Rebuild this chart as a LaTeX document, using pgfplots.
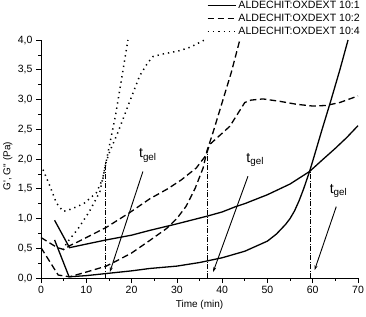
\documentclass[border=0pt]{standalone}
\usepackage{fontspec}
\setmainfont{Liberation Sans}
\usepackage{pgfplots}
\pgfplotsset{compat=1.18}
\usetikzlibrary{arrows.meta}
\begin{document}
\begin{tikzpicture}[x=1pt,y=1pt]
\path[use as bounding box] (0,0) rectangle (366,-316);
\begin{axis}[
  at={(41pt,-278pt)}, anchor=south west,
  scale only axis, width=317pt, height=238pt,
  xmin=0, xmax=70, ymin=0, ymax=4,
  axis x line*=bottom, axis y line*=left,
  axis line style={-, line width=0.8pt},
  xtick={0,10,20,30,40,50,60,70}, minor x tick num=1,
  ytick={0,0.5,1,1.5,2,2.5,3,3.5,4}, minor y tick num=1,
  tick align=outside,
  major tick length=5pt, minor tick length=2.8pt,
  tick style={black, line width=0.7pt},
  /pgf/number format/assume math mode=true,
  y tick label style={/pgf/number format/fixed, /pgf/number format/fixed zerofill, /pgf/number format/precision=1, /pgf/number format/use comma, xshift=0pt},
  tick label style={font=\fontsize{10.5}{12}\selectfont},
  xlabel={Time (min)},
  ylabel={G\textquotesingle, G\textquotedbl\ (Pa)},
  label style={font=\fontsize{12}{14}\selectfont},
  every axis x label/.style={at={(axis description cs:0.5,-0.113)}, anchor=center},
  every axis y label/.style={at={(axis description cs:-0.105,0.47)}, rotate=90, anchor=center},
  legend style={at={(1,1)}, anchor=south east, xshift=5pt, yshift=1pt, draw=none, fill=none,
    font=\fontsize{10.6}{12}\selectfont, row sep=0pt, inner sep=1pt},
  legend cell align=left,
  legend image code/.code={\draw[#1] (0pt,0pt) -- (28pt,0pt);},
  clip=false,
]
\addlegendimage{black, line width=1.3pt}
\addlegendentry{ALDECHIT:OXDEXT 10:1}
\addlegendimage{black, line width=1.3pt, dash pattern=on 6.5pt off 3.5pt}
\addlegendentry{ALDECHIT:OXDEXT 10:2}
\addlegendimage{black, line width=1.5pt, dash pattern=on 1.3pt off 4pt}
\addlegendentry{ALDECHIT:OXDEXT 10:4}

% 10:1 solid
\addplot[black, line width=1.3pt, forget plot] coordinates {
(3.0,0.97)(6.3,0.51)(10,0.57)(14.4,0.64)(20,0.72)(24,0.8)(30,0.91)(36.7,1.04)(40,1.11)(43,1.2)(45,1.25)(50,1.4)(55,1.58)(59.3,1.79)(62.2,1.99)(65,2.18)(67.5,2.36)(70,2.56)};
\addplot[black, line width=1.3pt, forget plot] coordinates {
(3.0,0.64)(6.2,0.02)(10,0.04)(15,0.08)(20,0.12)(24,0.16)(30,0.2)(35,0.26)(40,0.34)(45,0.45)(50,0.62)(52,0.74)(54,0.9)(55,1.0)(56,1.13)(57,1.3)(58,1.5)(59.3,1.79)(60.1,1.99)(62,2.48)(64,2.98)(66,3.5)(67.8,4.0)};

% 10:2 dashed
\addplot[black, line width=1.3pt, dash pattern=on 6.5pt off 3.5pt, forget plot] coordinates {
(0,0.68)(3.6,0.51)(5,0.48)(6.5,0.55)(8.2,0.61)(10,0.68)(14.4,0.85)(19.6,1.1)(24,1.33)(28,1.5)(31,1.65)(34.3,1.85)(36.5,2.07)(37.2,2.24)(41.7,2.55)(45,2.95)(46.4,2.99)(49,3.01)(52.7,2.97)(56.4,2.92)(60,2.89)(63,2.9)(66,2.95)(70,3.06)};
\addplot[black, line width=1.3pt, dash pattern=on 6.5pt off 3.5pt, forget plot] coordinates {
(0,0.51)(3.8,0.05)(6.3,0.02)(10,0.1)(14.4,0.2)(17,0.3)(20,0.42)(24,0.63)(27.7,0.83)(30,1.0)(32,1.2)(34,1.5)(35.8,1.85)(36.7,2.15)(38,2.45)(40,2.95)(42,3.45)(43.9,4.0)};

% 10:4 dotted
\addplot[black, line width=1.5pt, dash pattern=on 1.3pt off 4pt, forget plot] coordinates {
(0.45,1.82)(2,1.54)(3.4,1.26)(4.9,1.12)(6,1.14)(8,1.2)(9.6,1.26)(12.2,1.43)(13.7,1.68)(14.3,1.93)(15.2,2.13)(17,2.45)(19.2,2.89)(21.8,3.4)(23.6,3.62)(24.7,3.72)(26.6,3.76)(30.6,3.82)(33,3.88)(36.1,4.0)};
\addplot[black, line width=1.5pt, dash pattern=on 1.3pt off 4pt, forget plot] coordinates {
(4.9,0.47)(5.6,0.58)(8.2,0.83)(10.7,1.12)(13,1.45)(14.3,1.92)(16.5,2.75)(19.2,4.0)};

% gel-point verticals
\addplot[black, line width=0.6pt, dash pattern=on 5pt off 1.5pt on 1pt off 1.5pt, forget plot] coordinates {(14.3,0)(14.3,1.93)};
\addplot[black, line width=0.6pt, dash pattern=on 5pt off 1.5pt on 1pt off 1.5pt, forget plot] coordinates {(36.7,0)(36.7,2.18)};
\addplot[black, line width=0.6pt, dash pattern=on 5pt off 1.5pt on 1pt off 1.5pt, forget plot] coordinates {(59.4,0)(59.4,1.79)};

% annotations
\draw[-{Stealth[length=5pt,width=3pt]}, line width=0.9pt] (axis cs:22.5,1.79) -- (axis cs:15.2,0.1);
\draw[-{Stealth[length=5pt,width=3pt]}, line width=0.9pt] (axis cs:45.7,1.71) -- (axis cs:38.0,0.1);
\draw[-{Stealth[length=5pt,width=3pt]}, line width=0.9pt] (axis cs:65.2,1.2) -- (axis cs:60.4,0.13);
\node[font=\fontsize{14}{16}\selectfont] at (axis cs:23.6,2.06) {t\textsubscript{gel}};
\node[font=\fontsize{14}{16}\selectfont] at (axis cs:47.3,1.99) {t\textsubscript{gel}};
\node[font=\fontsize{14}{16}\selectfont] at (axis cs:65.7,1.46) {t\textsubscript{gel}};
\end{axis}
\end{tikzpicture}
\end{document}
